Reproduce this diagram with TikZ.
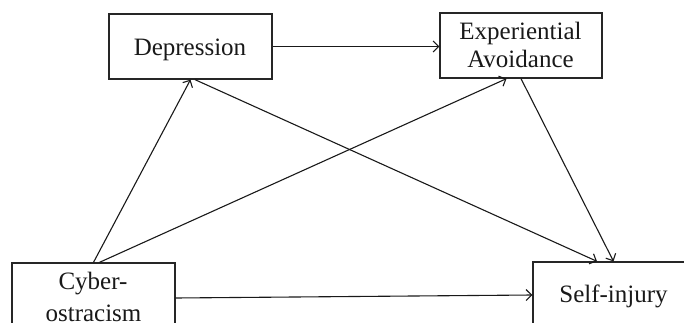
\documentclass[tikz,border=0pt]{standalone}
\usepackage{fontspec}
\setmainfont{Liberation Serif}
\usetikzlibrary{arrows.meta}
\begin{document}
\begin{tikzpicture}[x=1pt,y=-1pt,
  box/.style={draw=black!85, line width=1.3pt, minimum width=#1, inner sep=0pt},
  lbl/.style={anchor=base, inner sep=0pt, font=\fontsize{25}{28.3}\selectfont, text=black!90},
  arr/.style={draw=black!90, line width=1.1pt, -{Straight Barb[length=5.5pt,width=11pt,line width=1.1pt]}}]
\useasboundingbox (0,0) rectangle (684,323);
\clip (0,0) rectangle (684,323);
% boxes
\node[box=163pt, minimum height=65pt] (dep) at (190.5,46.5) {};
\node[box=162pt, minimum height=65pt] (ea) at (521,45.5) {};
\node[box=163pt, minimum height=70pt] (cyb) at (93.5,298) {};
\node[box=161pt, minimum height=66pt] (self) at (613.5,295) {};
% texts
\node[lbl] (tdep) at (190,55.7) {Depression};
\node[lbl] (tea1) at (520.5,39.7) {Experiential};
\node[lbl] (tea2) at (520.5,68) {Avoidance};
\node[lbl] (tcyb1) at (93,289) {Cyber-};
\node[lbl] (tcyb2) at (93.5,321.5) {ostracism};
\node[lbl] (tself) at (613.5,302.7) {Self-injury};
% connectors
\draw[arr] (dep.east) -- (dep.east -| ea.west);
\draw[arr] (cyb.north) -- (dep.south);
\draw[arr] ([xshift=6pt]cyb.north) -- ([xshift=-14.5pt]ea.south);
\draw[arr] ([xshift=4.5pt]dep.south) -- ([xshift=-16.5pt]self.north);
\draw[arr] (ea.south) -- (self.north);
\draw[arr] (cyb.east) -- (self.west);
\end{tikzpicture}
\end{document}
